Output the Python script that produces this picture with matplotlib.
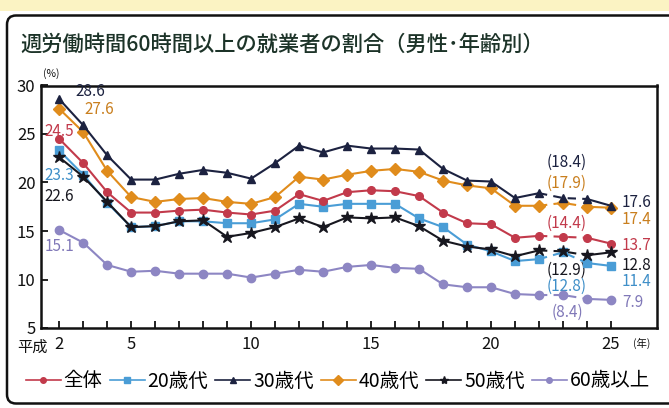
import matplotlib
matplotlib.use("Agg")
import matplotlib.pyplot as plt
from matplotlib.lines import Line2D
from matplotlib.patches import FancyBboxPatch, Rectangle

plt.rcParams['font.family'] = ['Noto Sans CJK JP', 'DejaVu Sans']

years = list(range(2, 26))
series_names = ["全体", "20歳代", "30歳代", "40歳代", "50歳代", "60歳以上"]

all_ages = [24.5, 22.0, 19.0, 16.9, 16.9, 17.1, 17.2, 16.9, 16.7, 17.1, 18.8, 18.1,
            19.0, 19.2, 19.1, 18.6, 16.9, 15.8, 15.7, 14.3, 14.5, 14.4, 14.3, 13.7]
age20 = [23.3, 20.8, 17.9, 15.4, 15.5, 16.0, 16.0, 15.8, 15.8, 16.2, 17.8, 17.5,
         17.8, 17.8, 17.8, 16.3, 15.4, 13.6, 12.9, 11.9, 12.1, 12.8, 11.7, 11.4]
age30 = [28.6, 25.9, 22.8, 20.3, 20.3, 20.9, 21.3, 21.0, 20.4, 22.0, 23.8, 23.1,
         23.8, 23.5, 23.5, 23.4, 21.4, 20.2, 20.1, 18.4, 18.9, 18.4, 18.3, 17.6]
age40 = [27.6, 25.2, 21.2, 18.5, 18.0, 18.3, 18.4, 18.0, 17.8, 18.5, 20.6, 20.3,
         20.8, 21.2, 21.4, 21.1, 20.2, 19.7, 19.4, 17.6, 17.6, 17.9, 17.5, 17.4]
age50 = [22.6, 20.6, 18.0, 15.4, 15.5, 16.0, 16.1, 14.4, 14.8, 15.4, 16.3, 15.4,
         16.4, 16.3, 16.4, 15.5, 14.0, 13.4, 13.1, 12.4, 13.0, 12.9, 12.5, 12.8]
age60 = [15.1, 13.8, 11.5, 10.8, 10.9, 10.6, 10.6, 10.6, 10.2, 10.6, 11.0, 10.8,
         11.3, 11.5, 11.2, 11.1, 9.5, 9.2, 9.2, 8.5, 8.4, 8.4, 8.0, 7.9]

xtick_vals = [2, 5, 10, 15, 20, 25]
xtick_labels = ["2", "5", "10", "15", "20", "25"]
ytick_vals = [5, 10, 15, 20, 25, 30]

colors = ["#c23a4b", "#4a9dd6", "#1c2240", "#e08c1c", "#17171f", "#8d86c3"]
label_colors = ["#c23a4b", "#3f8fc8", "#1c2240", "#c97f1e", "#17171f", "#8078b8"]
markers = ["o", "s", "^", "D", "*", "o"]
msizes = [5.5, 5.5, 6, 6, 9, 6]
legend_ms = [4, 4, 4.5, 5, 6, 4]
data = [all_ages, age20, age30, age40, age50, age60]
zorders = [4, 3, 5, 4, 6, 4]

fig = plt.figure(figsize=(6.69, 4.08), dpi=100)
fig.patch.set_facecolor("white")

# top band and rounded frame
fig.patches.append(Rectangle((0, 1 - 11 / 408), 1, 11 / 408, transform=fig.transFigure,
                             facecolor="#fbf3c3", edgecolor="none", zorder=0))
fig.patches.append(FancyBboxPatch((0.07, 0.045), 6.75, 3.88,
                                  boxstyle="round,pad=0,rounding_size=0.09",
                                  transform=fig.dpi_scale_trans, facecolor="white",
                                  edgecolor="#111111", linewidth=1.8, zorder=1))

ax = fig.add_axes([41 / 669, 1 - 328 / 408, (657 - 41) / 669, (328 - 85.5) / 408])
ax.set_zorder(2)
ax.set_xlim(1.24, 26.92)
ax.set_ylim(5, 30)

i22 = years.index(22)
i24 = years.index(24)
for vals, c, m, ms, z in zip(data, colors, markers, msizes, zorders):
    ax.plot(years[:i22 + 1], vals[:i22 + 1], color=c, lw=1.5, zorder=z)
    ax.plot(years[i22:i24 + 1], vals[i22:i24 + 1], color=c, lw=1.5, ls=(0, (4, 3)), zorder=z)
    ax.plot(years[i24:], vals[i24:], color=c, lw=1.5, zorder=z)
    ax.plot(years, vals, ls="none", marker=m, ms=ms, color=c, mec=c, zorder=z + 0.5)

for s in ax.spines.values():
    s.set_linewidth(1.8)
    s.set_color("#111111")

ax.set_xticks(xtick_vals)
ax.set_xticklabels(xtick_labels)
ax.set_xticks(years, minor=True)
ax.set_yticks(ytick_vals)
ax.set_yticklabels([str(v) for v in ytick_vals])
ax.tick_params(axis="x", which="both", direction="in", length=5, width=1.3, labelsize=12,
               pad=6, colors="#111111")
ax.tick_params(axis="y", which="both", direction="in", length=5, width=1.3, labelsize=12,
               pad=4, colors="#111111")

def lab(text, idx, series, dx, dy, color, ha="center"):
    ax.annotate(text, xy=(years[idx], data[series][idx]), xytext=(dx, dy),
                textcoords="offset pixels", ha=ha, va="center", fontsize=11,
                color=color, annotation_clip=False)

i2 = 0
i23 = years.index(23)
i25 = years.index(25)
lab(f"{age30[i2]}", i2, 2, 31, 8, label_colors[2])
lab(f"{age40[i2]}", i2, 3, 40, -1, label_colors[3])
lab(f"{all_ages[i2]}", i2, 0, 0, 7, label_colors[0])
lab(f"{age20[i2]}", i2, 1, 0, -25, label_colors[1])
lab(f"{age50[i2]}", i2, 4, 0, -39, label_colors[4])
lab(f"{age60[i2]}", i2, 5, 0, -16, label_colors[5])

lab(f"({age30[i23]})", i23, 2, 4, 36, label_colors[2])
lab(f"({age40[i23]})", i23, 3, 4, 20, label_colors[3])
lab(f"({all_ages[i23]})", i23, 0, 4, 13, label_colors[0])
lab(f"({age50[i23]})", i23, 4, 4, -19, label_colors[4])
lab(f"({age20[i23]})", i23, 1, 4, -34, label_colors[1])
lab(f"({age60[i23]})", i23, 5, 4, -17, label_colors[5])

lab(f"{age30[i25]}", i25, 2, 11, 3, label_colors[2], ha="left")
lab(f"{age40[i25]}", i25, 3, 11, -12, label_colors[3], ha="left")
lab(f"{all_ages[i25]}", i25, 0, 11, -2, label_colors[0], ha="left")
lab(f"{age50[i25]}", i25, 4, 11, -13, label_colors[4], ha="left")
lab(f"{age20[i25]}", i25, 1, 11, -16, label_colors[1], ha="left")
lab(f"{age60[i25]}", i25, 5, 11, -3, label_colors[5], ha="left")

# titles and unit texts
fig.text(20 / 669, 1 - 45 / 408, "週労働時間60時間以上の就業者の割合（男性･年齢別）",
         fontsize=15.3, fontweight=500, color="#1c3328", ha="left", va="center")
fig.text(51 / 669, 1 - 74 / 408, "(%)", fontsize=7.5, color="#111111", ha="center", va="center")
fig.text(48 / 669, 1 - 347 / 408, "平成", fontsize=11, color="#111111", ha="right", va="center")
fig.text(642 / 669, 1 - 343 / 408, "(年)", fontsize=7.5, color="#111111", ha="center", va="center")

handles = [Line2D([0], [0], color=c, lw=1.2, marker=m, ms=lm, mec=c)
           for c, m, lm in zip(colors, markers, legend_ms)]
fig.legend(handles, series_names, loc="center", bbox_to_anchor=(0.505, 1 - 381 / 408),
           ncol=6, frameon=False, fontsize=14, handlelength=1.8, handletextpad=0.15,
           columnspacing=0.36, borderaxespad=0)

fig.savefig("out.png", dpi=100)
